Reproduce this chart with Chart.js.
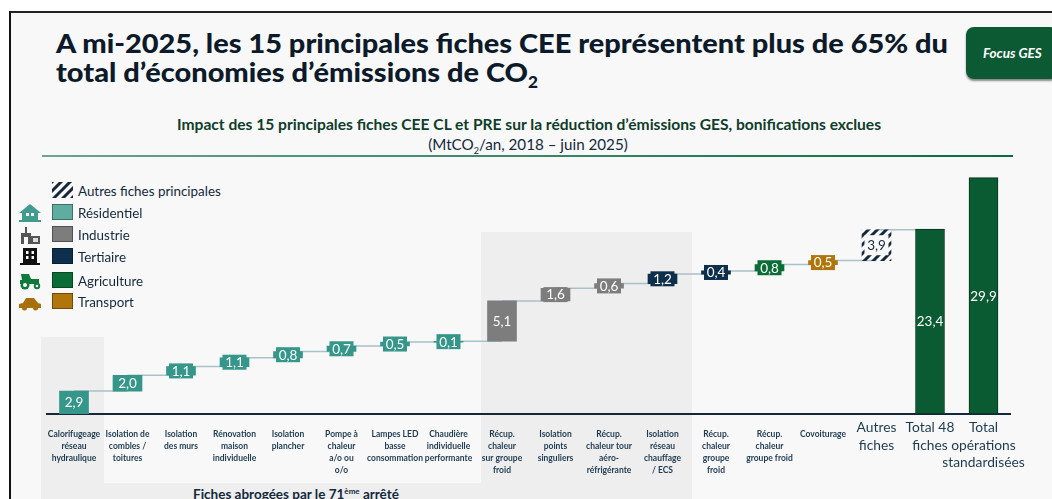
<!DOCTYPE html>
<html lang="fr">
<head>
<meta charset="utf-8">
<title>Fiches CEE</title>
<script src="https://cdn.jsdelivr.net/npm/chart.js@4/dist/chart.umd.min.js"></script>
<style>
    html, body { margin: 0; padding: 0; background: #fff; }
    body { width: 1052px; height: 499px; overflow: hidden; position: relative; font-family: Lato, sans-serif; }
    .abs { position: absolute; white-space: nowrap; }
    #frame { left: 9px; top: 11px; width: 1043px; height: 488px; background: #f8f8f8; border-left: 2px solid #111; border-top: 2px solid #222; box-sizing: border-box; }
    .panel { position: absolute; background: #eeeeee; }
    h1 { position: absolute; left: 56px; top: 28px; margin: 0; font-size: 27px; line-height: 29px; font-weight: 900; color: #0c1a2a; white-space: nowrap; transform-origin: left top; }
    h1 sub { font-size: 16px; line-height: 0; }
    #sub1 { left: 0; width: 1058px; text-align: center; top: 115px; font-size: 15.6px; font-weight: 700; color: #0f3d2a; }
    #sub2 { left: 0; width: 1056px; text-align: center; top: 135px; font-size: 15.2px; color: #14283c; }
    #sub2 sub { font-size: 9px; line-height: 0; }
    #rule { left: 42px; top: 155px; width: 971px; height: 2px; background: linear-gradient(90deg, #6aa58c, #0c6a42); }
    #focus { left: 966px; top: 27px; width: 92px; height: 52px; background: #0b5a33; border-radius: 8px; box-shadow: 0 2px 2px #888; color: #fff; font-style: italic; font-weight: 700; font-size: 13.5px; line-height: 52px; padding-left: 17px; box-sizing: border-box; }
    #abroge { left: 193px; top: 486px; font-size: 13.5px; font-weight: 700; color: #14283c; }
    #abroge sup { font-size: 8px; line-height: 0; }
    .swatch { position: absolute; left: 52px; width: 21px; height: 16px; box-sizing: border-box; border: 1px solid rgba(0,0,0,.35); }
    .leg { position: absolute; left: 78px; font-size: 13.4px; line-height: 16px; color: #14283c; white-space: nowrap; }
    svg.ic { position: absolute; left: 18px; width: 24px; height: 18px; }
    canvas { position: absolute; left: 0; top: 0; }
</style>
</head>
<body>
    <div id="frame" class="abs"></div>
    <div class="panel" style="left:41px;top:337px;width:63px;height:162px"></div>
    <div class="panel" style="left:481px;top:232px;width:211px;height:267px"></div>
    <div class="panel" style="left:41px;top:483px;width:651px;height:16px"></div>

    <h1 id="title">A mi-2025, les 15 principales fiches CEE représentent plus de 65% du<br>total d’économies d’émissions de CO<sub>2</sub></h1>
    <div id="focus" class="abs">Focus GES</div>
    <div id="sub1" class="abs">Impact des 15 principales fiches CEE CL et PRE sur la réduction d’émissions GES, bonifications exclues</div>
    <div id="sub2" class="abs">(MtCO<sub>2</sub>/an, 2018 – juin 2025)</div>
    <div id="rule" class="abs"></div>
    <div id="abroge" class="abs">Fiches abrogées par le 71<sup>ème</sup> arrêté</div>

    <!-- legend icons -->
    <svg class="ic" style="top:204px" viewBox="0 0 24 18"><path fill="#3f9c8e" d="M12 0 L23 9 H20 V16 H4 V9 H1 Z"/><rect x="1" y="16" width="22" height="2" fill="#3f9c8e"/><rect x="8" y="9" width="3" height="3" fill="#f8f8f8"/><rect x="13" y="9" width="3" height="3" fill="#f8f8f8"/></svg>
    <svg class="ic" style="top:226px" viewBox="0 0 24 18"><path fill="#555" d="M3 18 V7 H7 V1 H9 V7 H13 V10 H22 V18 Z"/><rect x="15" y="12" width="5" height="4" fill="#ddd"/><rect x="6" y="11" width="4" height="7" fill="#f8f8f8"/></svg>
    <svg class="ic" style="top:247px" viewBox="0 0 24 18"><path fill="#111" d="M5 1 H19 V16 H22 V18 H2 V16 H5 Z"/><rect x="8" y="4" width="2.5" height="3" fill="#f8f8f8"/><rect x="13.5" y="4" width="2.5" height="3" fill="#f8f8f8"/><rect x="8" y="9" width="2.5" height="3" fill="#f8f8f8"/><rect x="13.5" y="9" width="2.5" height="3" fill="#f8f8f8"/></svg>
    <svg class="ic" style="top:272px" viewBox="0 0 24 18"><path fill="#0f7a3c" d="M3 2 H11 L13 7 H21 V12 H2 V8 H4 Z"/><circle cx="7" cy="13" r="4.5" fill="#0f7a3c"/><circle cx="7" cy="13" r="2" fill="#f8f8f8"/><circle cx="19" cy="14" r="3.2" fill="#0f7a3c"/><circle cx="19" cy="14" r="1.3" fill="#f8f8f8"/></svg>
    <svg class="ic" style="top:295px" viewBox="0 0 24 14"><path fill="#a8700c" d="M1 11 V7 L5 6 L8 1 H16 L20 6 L23 7 V11 Z"/><circle cx="6.5" cy="11" r="2.5" fill="#a8700c"/><circle cx="17.5" cy="11" r="2.5" fill="#a8700c"/></svg>

    <canvas id="chart" width="1052" height="499"></canvas>

    <script>
        var categories = [
            ['Calorifugeage', 'réseau', 'hydraulique'],
            ['Isolation de', 'combles /', 'toitures'],
            ['Isolation', 'des murs'],
            ['Rénovation', 'maison', 'individuelle'],
            ['Isolation', 'plancher'],
            ['Pompe à', 'chaleur', 'a/o ou', 'o/o'],
            ['Lampes LED', 'basse', 'consommation'],
            ['Chaudière', 'individuelle', 'performante'],
            ['Récup.', 'chaleur', 'sur groupe', 'froid'],
            ['Isolation', 'points', 'singuliers'],
            ['Récup.', 'chaleur tour', 'aéro-', 'réfrigérante'],
            ['Isolation', 'réseau', 'chauffage', '/ ECS'],
            ['Récup.', 'chaleur', 'groupe', 'froid'],
            ['Récup.', 'chaleur', 'groupe froid'],
            ['Covoiturage'],
            ['Autres', 'fiches'],
            ['Total 48', 'fiches'],
            ['Total', 'opérations', 'standardisées']
        ];
        var values = [2.9, 2.0, 1.1, 1.1, 0.8, 0.7, 0.5, 0.1, 5.1, 1.6, 0.6, 1.2, 0.4, 0.8, 0.5, 3.9, 23.4, 29.9];
        var sectors = ['Résidentiel', 'Résidentiel', 'Résidentiel', 'Résidentiel', 'Résidentiel', 'Résidentiel', 'Résidentiel', 'Résidentiel',
            'Industrie', 'Industrie', 'Industrie', 'Tertiaire', 'Tertiaire', 'Agriculture', 'Transport',
            'Autres fiches principales', 'Total', 'Total'];
        var legendNames = ['Autres fiches principales', 'Résidentiel', 'Industrie', 'Tertiaire', 'Agriculture', 'Transport'];
        var legendTops = [182, 204, 226, 248, 272, 293];
        var colors = {
            'Résidentiel': '#35968a',
            'Industrie': '#7d7d7d',
            'Tertiaire': '#0d2f4c',
            'Agriculture': '#0b6d36',
            'Transport': '#b0760c',
            'Total': '#0a5a32'
        };

        // the source title is wider than any Lato size of its height, so stretch it to 892px
        var title = document.getElementById('title');
        title.style.transform = 'scaleX(' + 892 / title.firstChild.parentNode.getBoundingClientRect().width + ')';

        function hatch() {
            var c = document.createElement('canvas');
            c.width = c.height = 9;
            var g = c.getContext('2d');
            g.strokeStyle = '#14283c';
            g.lineWidth = 3;
            g.beginPath();
            g.moveTo(-3, 3); g.lineTo(3, -3);
            g.moveTo(0, 9); g.lineTo(9, 0);
            g.moveTo(6, 12); g.lineTo(12, 6);
            g.stroke();
            return g.createPattern(c, 'repeat');
        }
        var hatchFill = hatch();
        function fillFor(name) {
            return name === 'Autres fiches principales' ? hatchFill : colors[name];
        }

        // legend
        legendNames.forEach(function (name, i) {
            var sw = document.createElement('div');
            sw.className = 'swatch';
            sw.style.top = legendTops[i] + 'px';
            if (i === 0) {
                var c = document.createElement('canvas');
                c.width = 21; c.height = 16;
                c.style.left = '0'; c.style.top = '0';
                var g = c.getContext('2d');
                g.fillStyle = hatchFill;
                g.fillRect(0, 0, 21, 16);
                sw.style.border = 'none';
                sw.appendChild(c);
            } else {
                sw.style.background = name === 'Résidentiel' ? '#5fada1' : colors[name];
            }
            document.body.insertBefore(sw, document.getElementById('chart'));
            var t = document.createElement('div');
            t.className = 'leg';
            t.style.top = legendTops[i] + 1 + 'px';
            t.textContent = name;
            document.body.insertBefore(t, document.getElementById('chart'));
        });

        // waterfall: each bar starts where the previous one stopped, the last two start at 0
        var ranges = [], total = 0;
        values.forEach(function (v, i) {
            if (sectors[i] === 'Total') {
                ranges.push([0, v]);
            } else {
                ranges.push([total, total + v]);
                total += v;
            }
        });

        var datasets = Object.keys(colors).concat('Autres fiches principales').map(function (name) {
            return {
                label: name,
                data: ranges.map(function (r, i) { return sectors[i] === name ? r : null; }),
                backgroundColor: fillFor(name),
                borderColor: name === 'Total' ? '#06341d' : 'rgba(0,0,0,0)',
                borderWidth: name === 'Total' ? 1 : 0,
                borderSkipped: false,
                barThickness: 29,
                grouped: false
            };
        });

        var waterfall = {
            id: 'waterfall',
            // connectors between the bars
            beforeDatasetsDraw: function (chart) {
                var ctx = chart.ctx, x = chart.scales.x, y = chart.scales.y;
                ctx.save();
                ctx.strokeStyle = '#a9c1c9';
                ctx.lineWidth = 1.5;
                for (var i = 0; i < 16; i++) {
                    var py = y.getPixelForValue(ranges[i][1]);
                    ctx.beginPath();
                    ctx.moveTo(x.getPixelForValue(i), py);
                    ctx.lineTo(x.getPixelForValue(i + 1), py);
                    ctx.stroke();
                }
                ctx.restore();
            },
            afterDatasetsDraw: function (chart) {
                var ctx = chart.ctx, x = chart.scales.x, y = chart.scales.y;
                ctx.save();
                ctx.textAlign = 'center';
                ctx.textBaseline = 'middle';
                values.forEach(function (v, i) {
                    var px = x.getPixelForValue(i);
                    var top = y.getPixelForValue(ranges[i][1]);
                    var bot = y.getPixelForValue(ranges[i][0]);
                    var py = (top + bot) / 2;
                    if (sectors[i] === 'Autres fiches principales') {
                        ctx.fillStyle = '#f8f8f8';
                        ctx.fillRect(px - 12, py - 10, 24, 20);
                    } else if (bot - top < 15) {
                        ctx.fillStyle = colors[sectors[i]];
                        ctx.fillRect(px - 12, py - 7.5, 24, 15);
                    }
                    ctx.font = '13.5px Lato';
                    ctx.fillStyle = sectors[i] === 'Autres fiches principales' ? '#14283c' : '#fff';
                    ctx.fillText(v.toFixed(1).replace('.', ','), px, py + 0.5);
                });
                ctx.restore();
            },
            // category labels: the last three are set larger and start higher
            afterDraw: function (chart) {
                var ctx = chart.ctx, x = chart.scales.x;
                ctx.save();
                ctx.textAlign = 'center';
                ctx.textBaseline = 'middle';
                ctx.fillStyle = '#1d3a50';
                categories.forEach(function (lines, i) {
                    var big = i >= 15;
                    ctx.font = big ? '13.8px Lato' : 'bold 8.5px Lato';
                    lines.forEach(function (line, k) {
                        var py = big ? 428 + k * 17.5 : 434.5 + k * 11.8;
                        ctx.fillText(line, x.getPixelForTick(i), py);
                    });
                });
                ctx.restore();
            }
        };

        new Chart(document.getElementById('chart'), {
            type: 'bar',
            data: { labels: categories, datasets: datasets },
            plugins: [waterfall],
            options: {
                responsive: false,
                animation: false,
                layout: { padding: { left: 47.25, right: 41.75, top: 161, bottom: 77 } },
                plugins: { legend: { display: false }, tooltip: { enabled: false } },
                scales: {
                    x: {
                        offset: true,
                        grid: { display: false },
                        border: { color: '#14283c', width: 2 },
                        ticks: { display: false }
                    },
                    y: { display: false, min: 0, max: 32 }
                }
            }
        });
    </script>
</body>
</html>
